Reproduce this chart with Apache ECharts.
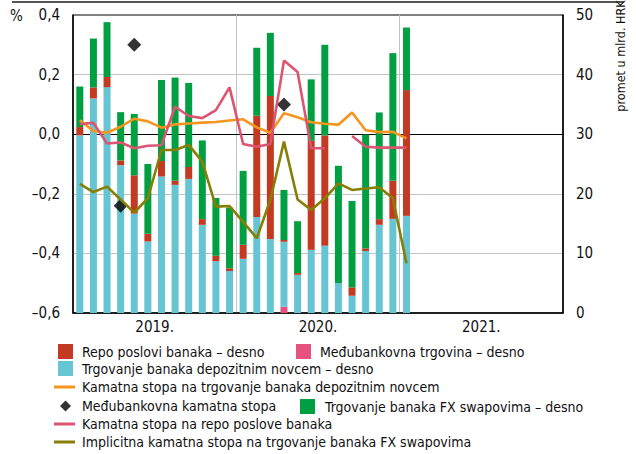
<!DOCTYPE html>
<html>
<head>
<meta charset="utf-8">
<script src="https://cdn.jsdelivr.net/npm/echarts@6/dist/echarts.min.js"></script>
<style>
html, body { margin: 0; padding: 0; background: #fff; }
#chart { width: 636px; height: 454px; }
</style>
</head>
<body>
<div id="chart"></div>
<script>
// mjeseci od 1/2019 do 12/2021, godine za oznake osi
const months = [
  '2019-01', '2019-02', '2019-03', '2019-04', '2019-05', '2019-06',
  '2019-07', '2019-08', '2019-09', '2019-10', '2019-11', '2019-12',
  '2020-01', '2020-02', '2020-03', '2020-04', '2020-05', '2020-06',
  '2020-07', '2020-08', '2020-09', '2020-10', '2020-11', '2020-12',
  '2021-01', '2021-02', '2021-03', '2021-04', '2021-05', '2021-06',
  '2021-07', '2021-08', '2021-09', '2021-10', '2021-11', '2021-12'
]
const years = ['2019.', '2020.', '2021.']

// promet, mlrd. HRK (desno)
const interbankVolume = [0, 0, 0, 0, 0, 0, 0, 0, 0, 0, 0, 0, 0, 0, 0, 1.05, 0, 0, 0, 0, 0, 0, 0, 0, 0]
const depositVolume = [29.8, 36.0, 37.9, 24.8, 16.7, 12.0, 22.9, 21.5, 22.5, 14.8, 8.7, 7.05, 9.1, 16.1, 12.4, 10.9, 6.4, 10.6, 11.3, 5.0, 2.9, 10.4, 14.8, 15.8, 16.3]
const repoVolume = [1.4, 1.85, 1.7, 0.8, 6.4, 1.3, 2.6, 0.7, 2.0, 0.95, 0.9, 0.45, 2.35, 17.0, 24.0, 0.3, 0.3, 18.3, 18.5, 0, 1.4, 0.45, 0.95, 6.4, 21.1]
const fxSwapVolume = [6.8, 8.2, 9.2, 8.1, 10.3, 11.7, 13.6, 17.3, 14.1, 13.2, 9.7, 10.2, 12.4, 11.4, 10.6, 8.4, 8.7, 10.3, 15.2, 19.7, 14.5, 19.1, 17.9, 21.4, 10.5]

// kamatne stope, % (lijevo)
const depositRate = [0.047, 0.011, 0.005, 0.025, 0.052, 0.043, 0.022, 0.033, 0.036, 0.039, 0.041, 0.046, 0.050, 0.023, 0.005, 0.070, 0.057, 0.040, 0.035, 0.032, 0.073, 0.013, 0.007, 0.008, -0.014]
const interbankRate = ['-', '-', '-', -0.24, 0.30, '-', '-', '-', '-', '-', '-', '-', '-', '-', '-', 0.10, '-', '-', '-', '-', '-', '-', '-', '-', '-']
const repoRate = [0.034, 0.038, -0.031, -0.028, -0.047, -0.039, -0.037, 0.092, 0.061, 0.054, 0.081, 0.157, -0.033, -0.042, -0.033, 0.247, 0.209, -0.047, -0.047, '-', -0.006, -0.042, -0.045, -0.045, -0.045]
const fxSwapRate = [-0.167, -0.194, -0.176, -0.219, -0.263, -0.215, -0.053, -0.053, -0.036, -0.092, -0.243, -0.241, -0.294, -0.349, -0.221, -0.025, -0.219, -0.254, -0.215, -0.165, -0.187, -0.182, -0.178, -0.215, -0.433]

const FONT = "'Liberation Sans Narrow', 'Arial Narrow', 'DejaVu Sans Condensed', sans-serif"
const TXT = '#111'

const names = {
  repo: 'Repo poslovi banaka – desno',
  interbank: 'Međubankovna trgovina – desno',
  deposit: 'Trgovanje banaka depozitnim novcem – desno',
  depositRate: 'Kamatna stopa na trgovanje banaka depozitnim novcem',
  interbankRate: 'Međubankovna kamatna stopa',
  fxSwap: 'Trgovanje banaka FX swapovima – desno',
  repoRate: 'Kamatna stopa na repo poslove banaka',
  fxSwapRate: 'Implicitna kamatna stopa na trgovanje banaka FX swapovima'
}

function legendItem (name, left, top, icon, w, h, pad) {
  return {
    data: [name],
    left: left,
    top: top,
    icon: icon,
    itemWidth: w,
    itemHeight: h,
    padding: 0,
    selectedMode: false,
    textStyle: { fontFamily: FONT, fontSize: 14, color: TXT, padding: [0, 0, 0, pad] }
  }
}

function pct (v) {
  if (Math.abs(v) < 1e-9) return '0,0'
  return (v < 0 ? '–' : '') + Math.abs(v).toFixed(1).replace('.', ',')
}

function bar (name, data, color) {
  return {
    name: name,
    type: 'bar',
    stack: 'promet',
    xAxisIndex: 0,
    yAxisIndex: 1,
    barWidth: 7,
    data: data,
    itemStyle: { color: color }
  }
}

function line (name, data, color) {
  return {
    name: name,
    type: 'line',
    xAxisIndex: 0,
    yAxisIndex: 0,
    symbol: 'none',
    data: data,
    lineStyle: { color: color, width: 2.6 },
    itemStyle: { color: color }
  }
}

const chart = echarts.init(document.getElementById('chart'), null, { renderer: 'svg' })

chart.setOption({
  animation: false,
  grid: { left: 73, right: 73, top: 15, bottom: 141, show: true, borderColor: '#000', borderWidth: 1 },
  xAxis: [
    {
      type: 'category',
      data: months,
      position: 'bottom',
      axisLine: { onZero: true, onZeroAxisIndex: 0, lineStyle: { color: '#000', width: 1 } },
      axisTick: { show: false },
      axisLabel: { show: false },
      splitLine: { show: false }
    },
    {
      type: 'category',
      data: years,
      position: 'bottom',
      axisLine: { onZero: false, lineStyle: { color: '#000', width: 1.5 } },
      axisTick: { show: false },
      axisLabel: { fontFamily: FONT, fontSize: 15, color: TXT, margin: 6 },
      splitLine: { show: true, showMinLine: false, showMaxLine: false, lineStyle: { color: '#c4c4c4', width: 1 } }
    }
  ],
  yAxis: [
    {
      type: 'value',
      min: -0.6,
      max: 0.4,
      interval: 0.2,
      axisLine: { show: true, lineStyle: { color: '#000', width: 1.5 } },
      axisTick: { show: false },
      axisLabel: { fontFamily: FONT, fontSize: 15, color: TXT, margin: 13, formatter: pct },
      splitLine: { show: true, showMinLine: false, showMaxLine: false, lineStyle: { color: '#c4c4c4', width: 1 } }
    },
    {
      type: 'value',
      min: 0,
      max: 50,
      interval: 10,
      position: 'right',
      axisLine: { show: true, lineStyle: { color: '#000', width: 1.5 } },
      axisTick: { show: false },
      axisLabel: { fontFamily: FONT, fontSize: 15, color: TXT, margin: 13 },
      splitLine: { show: false }
    }
  ],
  legend: [
    legendItem(names.repo, 58, 344, 'rect', 15, 15, 4),
    legendItem(names.interbank, 296, 344, 'rect', 15, 15, 4),
    legendItem(names.deposit, 58, 361, 'rect', 15, 15, 4),
    legendItem(names.depositRate, 54, 380, 'rect', 21, 3, 2),
    legendItem(names.interbankRate, 60, 399, 'diamond', 11, 11, 6),
    legendItem(names.fxSwap, 300, 399, 'rect', 15, 15, 5),
    legendItem(names.repoRate, 54, 417, 'rect', 21, 3, 2),
    legendItem(names.fxSwapRate, 54, 435, 'rect', 21, 3, 2)
  ],
  graphic: [
    { type: 'line', shape: { x1: 12, y1: 2, x2: 624, y2: 2 }, style: { stroke: '#555', lineWidth: 2 } },
    { type: 'text', left: 10, top: 8, style: { text: '%', fontFamily: FONT, fontSize: 15, fill: TXT } },
    {
      type: 'text',
      x: 620,
      y: 56,
      rotation: Math.PI / 2,
      style: { text: 'promet u mlrd. HRK', fontFamily: FONT, fontSize: 12.5, fill: TXT, align: 'center', verticalAlign: 'middle' }
    }
  ],
  series: [
    bar(names.interbank, interbankVolume, '#e5527f'),
    bar(names.deposit, depositVolume, '#66c4d3'),
    bar(names.repo, repoVolume, '#c23a22'),
    bar(names.fxSwap, fxSwapVolume, '#00a042'),
    line(names.depositRate, depositRate, '#f5951f'),
    line(names.repoRate, repoRate, '#dc5570'),
    line(names.fxSwapRate, fxSwapRate, '#877f05'),
    {
      name: names.interbankRate,
      type: 'scatter',
      xAxisIndex: 0,
      yAxisIndex: 0,
      symbol: 'diamond',
      symbolSize: 14,
      data: interbankRate,
      itemStyle: { color: '#000' }
    }
  ]
})
</script>
</body>
</html>
